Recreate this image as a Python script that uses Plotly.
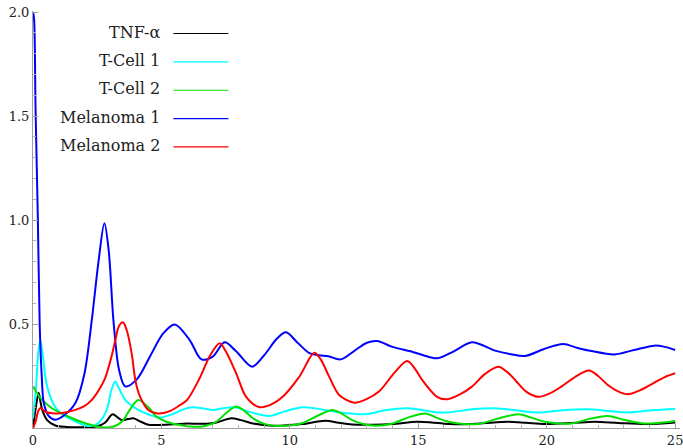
import plotly.graph_objects as go

# Time samples and levels for each population
tnf_t = [0, 0.1, 0.22, 0.3, 0.36, 0.55, 0.87, 1.3, 2.0, 2.5, 2.8, 3.1, 3.3, 3.46, 3.7, 3.91, 4.2, 4.49,
         4.94, 5.5, 6.0, 6.6, 7.1, 7.72, 8.1, 8.56, 9.33, 10.0, 10.5, 11.4, 11.9, 12.43, 13.2, 13.98,
         14.95, 15.5, 16.18, 17.3, 18.5, 19.2, 19.93, 21.0, 21.87, 22.8, 23.9, 25]
tnf_v = [0, 0.09, 0.17, 0.12, 0.087, 0.038, 0.012, 0.005, 0.004, 0.008, 0.025, 0.066, 0.05, 0.038, 0.043,
         0.047, 0.03, 0.016, 0.015, 0.018, 0.022, 0.02, 0.025, 0.047, 0.038, 0.022, 0.011, 0.014, 0.019,
         0.035, 0.025, 0.017, 0.016, 0.019, 0.03, 0.027, 0.019, 0.021, 0.03, 0.025, 0.019, 0.024, 0.03,
         0.024, 0.019, 0.027]

tc1_t = [0, 0.12, 0.22, 0.29, 0.38, 0.55, 0.87, 1.1, 1.39, 2.03, 2.4, 2.6, 2.87, 3.05, 3.2, 3.35, 3.59,
         4.1, 4.5, 4.94, 5.5, 5.9, 6.23, 6.6, 7.01, 7.4, 7.85, 8.5, 9.2, 9.8, 10.5, 11.1, 11.79, 12.95,
         13.7, 14.5, 15.1, 15.73, 16.18, 17.1, 17.99, 18.8, 19.67, 20.6, 21.6, 22.4, 23.16, 24.1, 25]
tc1_v = [0.047, 0.2, 0.38, 0.42, 0.35, 0.2, 0.1, 0.07, 0.047, 0.012, 0.013, 0.03, 0.087, 0.18, 0.223, 0.19,
         0.135, 0.087, 0.065, 0.05, 0.07, 0.092, 0.1, 0.095, 0.087, 0.095, 0.1, 0.075, 0.058, 0.08, 0.1,
         0.092, 0.078, 0.066, 0.085, 0.095, 0.088, 0.075, 0.075, 0.09, 0.095, 0.085, 0.074, 0.085, 0.09,
         0.082, 0.075, 0.085, 0.091]

tc2_t = [0, 0.2, 0.36, 0.74, 1.39, 2.03, 2.68, 3.1, 3.46, 3.78, 4.1, 4.49, 4.81, 5.2, 5.72, 6.23, 6.7,
         7.14, 7.5, 7.91, 8.2, 8.56, 9.0, 9.47, 10.0, 10.5, 11.1, 11.66, 12.0, 12.43, 12.9, 13.34, 14.0,
         14.6, 15.28, 15.7, 16.18, 16.7, 17.34, 18.1, 18.9, 19.4, 19.93, 20.96, 21.7, 22.38, 23.0, 23.8,
         24.4, 25]
tc2_v = [0.2, 0.16, 0.135, 0.095, 0.054, 0.023, 0.004, 0.006, 0.03, 0.09, 0.135, 0.1, 0.054, 0.03, 0.014,
         0.006, 0.01, 0.03, 0.07, 0.103, 0.085, 0.047, 0.02, 0.01, 0.012, 0.024, 0.06, 0.087, 0.07, 0.038,
         0.018, 0.011, 0.022, 0.05, 0.07, 0.05, 0.03, 0.02, 0.019, 0.045, 0.066, 0.05, 0.03, 0.022, 0.045,
         0.058, 0.04, 0.022, 0.025, 0.034]

mel1_t = [0, 0.04, 0.1, 0.19, 0.26, 0.34, 0.42, 0.6, 0.87, 1.2, 1.65, 2.0, 2.29, 2.55, 2.78, 2.95, 3.13,
          3.35, 3.59, 4.04, 4.55, 5.07, 5.52, 6.1, 6.56, 7.0, 7.46, 7.9, 8.53, 9.0, 9.5, 9.85, 10.3, 10.76,
          11.14, 11.5, 11.98, 12.5, 13.0, 13.4, 14.0, 14.76, 15.2, 15.73, 16.4, 17.09, 17.99, 18.6, 19.15,
          19.9, 20.64, 21.2, 21.74, 22.64, 23.4, 24.19, 24.6, 25]
mel1_v = [2.0, 1.97, 1.53, 1.0, 0.5, 0.25, 0.12, 0.06, 0.04, 0.06, 0.12, 0.26, 0.52, 0.8, 0.984, 0.85,
          0.52, 0.28, 0.2, 0.234, 0.343, 0.455, 0.498, 0.423, 0.33, 0.343, 0.412, 0.37, 0.295, 0.35, 0.43,
          0.46, 0.41, 0.36, 0.35, 0.345, 0.33, 0.37, 0.41, 0.418, 0.39, 0.367, 0.35, 0.335, 0.37, 0.412,
          0.372, 0.355, 0.346, 0.38, 0.404, 0.385, 0.37, 0.354, 0.375, 0.396, 0.39, 0.375]

mel2_t = [0, 0.1, 0.2, 0.29, 0.48, 0.87, 1.3, 1.65, 2.0, 2.29, 2.6, 2.81, 3.05, 3.2, 3.35, 3.5, 3.65,
          3.84, 4.0, 4.17, 4.49, 4.85, 5.3, 5.72, 6.0, 6.49, 6.9, 7.27, 7.5, 7.91, 8.3, 8.82, 9.3, 9.72,
          10.37, 10.95, 11.2, 11.53, 11.92, 12.5, 13.0, 13.47, 14.1, 14.57, 14.9, 15.15, 15.73, 16.12,
          16.6, 17.09, 17.6, 18.12, 18.5, 18.77, 19.2, 19.67, 20.1, 20.57, 21.1, 21.65, 22.0, 22.38, 22.8,
          23.16, 23.7, 24.19, 24.6, 25]
mel2_v = [0, 0.03, 0.08, 0.096, 0.078, 0.07, 0.076, 0.087, 0.105, 0.135, 0.19, 0.24, 0.34, 0.42, 0.49,
          0.508, 0.47, 0.36, 0.22, 0.15, 0.087, 0.07, 0.08, 0.11, 0.135, 0.24, 0.35, 0.407, 0.37, 0.263,
          0.15, 0.1, 0.115, 0.15, 0.247, 0.362, 0.33, 0.247, 0.159, 0.122, 0.14, 0.175, 0.27, 0.322, 0.28,
          0.231, 0.15, 0.138, 0.16, 0.199, 0.26, 0.295, 0.265, 0.231, 0.175, 0.15, 0.165, 0.199, 0.245,
          0.276, 0.25, 0.207, 0.175, 0.162, 0.185, 0.218, 0.245, 0.263]

names = ["TNF-\u03b1", "T-Cell 1", "T-Cell 2", "Melanoma 1", "Melanoma 2"]
colors = ["#000000", "#00ffff", "#00e000", "#0000ff", "#ff0000"]
series = [(tnf_t, tnf_v), (tc1_t, tc1_v), (tc2_t, tc2_v), (mel1_t, mel1_v), (mel2_t, mel2_v)]

x_ticks = [0, 5, 10, 15, 20, 25]
y_ticks = [0.5, 1.0, 1.5, 2.0]
y_tick_text = ["0.5", "1.0", "1.5", "2.0"]

SERIF = "DejaVu Serif"

fig = go.Figure()
for (t, v), name, color in zip(series, names, colors):
    fig.add_trace(go.Scatter(
        x=t, y=v, mode="lines", name=name,
        line=dict(color=color, width=2, shape="spline", smoothing=0.9),
        showlegend=False, hoverinfo="skip",
    ))

# Legend drawn as right-aligned labels followed by a short line sample
row_top, row_step = 0.949, 0.068
text_right, line_x0, line_x1 = 0.200, 0.217, 0.302
for i, (name, color) in enumerate(zip(names, colors)):
    yy = row_top - i * row_step
    fig.add_annotation(
        x=text_right, y=yy, xref="paper", yref="paper", text=name, showarrow=False,
        xanchor="right", yanchor="middle", font=dict(family=SERIF, size=16, color="#222222"),
    )
    fig.add_shape(
        type="line", xref="paper", yref="paper", x0=line_x0, x1=line_x1,
        y0=yy - 0.003, y1=yy - 0.003, line=dict(color=color, width=1.2),
    )

axis_common = dict(
    showgrid=False, zeroline=False, showline=True, linecolor="#a0a0a0", linewidth=1,
    ticks="inside", ticklen=5, tickcolor="#a0a0a0", tickwidth=1,
    tickfont=dict(family=SERIF, size=13, color="#222222"),
    ticklabeloverflow="allow",
)

fig.update_layout(
    width=683, height=448,
    margin=dict(l=33, r=0, t=11, b=20),
    paper_bgcolor="white", plot_bgcolor="white",
    font=dict(family=SERIF),
    xaxis=dict(range=[0, 25.19], tickvals=x_ticks, ticktext=[str(v) for v in x_ticks],
               minor=dict(ticks="inside", dtick=1, ticklen=3, tickcolor="#b0b0b0"),
               **axis_common),
    yaxis=dict(range=[0, 2.005], tickvals=y_ticks, ticktext=y_tick_text,
               minor=dict(ticks="inside", dtick=0.1, ticklen=3, tickcolor="#b0b0b0"),
               **axis_common),
)

fig.write_html("out.html")
